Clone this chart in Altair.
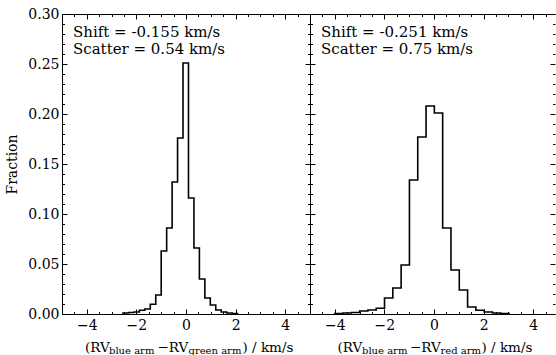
import altair as alt
import pandas as pd

FONT = "DejaVu Serif"

# ---------------- data ----------------
# left panel: RV(blue arm) - RV(green arm)
green_edges = [-2.54, -2.32, -2.10, -1.88, -1.66, -1.44, -1.22, -1.00, -0.78, -0.56, -0.34,
               -0.12, 0.10, 0.32, 0.54, 0.76, 0.98, 1.20, 1.42, 1.64, 1.86, 2.08]
green_frac = [0.001, 0.0015, 0.002, 0.0037, 0.005, 0.0097, 0.019, 0.063, 0.086, 0.132, 0.176,
              0.251, 0.116, 0.066, 0.035, 0.016, 0.009, 0.004, 0.002, 0.001, 0.0005]

# right panel: RV(blue arm) - RV(red arm)
red_edges = [-4.0, -3.67, -3.335, -3.0, -2.665, -2.33, -1.995, -1.66, -1.325, -0.99, -0.655,
             -0.32, 0.015, 0.35, 0.685, 1.02, 1.355, 1.69, 2.025, 2.36, 2.695, 3.03]
red_frac = [0.0005, 0.001, 0.0015, 0.003, 0.004, 0.0057, 0.016, 0.026, 0.049, 0.134, 0.177,
            0.208, 0.201, 0.086, 0.044, 0.024, 0.007, 0.0037, 0.002, 0.001, 0.0005]

green_note = ["Shift = -0.155 km/s", "Scatter = 0.54 km/s"]
red_note = ["Shift = -0.251 km/s", "Scatter = 0.75 km/s"]

green_title = ["(RV", "blue arm", "\u2212RV", "green arm", ") / km/s"]
red_title = ["(RV", "blue arm", "\u2212RV", "red arm", ") / km/s"]
y_title = "Fraction"

x_major = [-4, -2, 0, 2, 4]
x_minor = [-4.5, -4.0, -3.5, -3.0, -2.5, -2.0, -1.5, -1.0, -0.5, 0.0,
           0.5, 1.0, 1.5, 2.0, 2.5, 3.0, 3.5, 4.0, 4.5]
y_major = [0.0, 0.05, 0.10, 0.15, 0.20, 0.25, 0.30]
y_minor = [0.01, 0.02, 0.03, 0.04, 0.06, 0.07, 0.08, 0.09, 0.11, 0.12, 0.13, 0.14,
           0.16, 0.17, 0.18, 0.19, 0.21, 0.22, 0.23, 0.24, 0.26, 0.27, 0.28, 0.29]


def step_table(edges, frac):
    xs = [edges[0]] + list(edges[:-1]) + [edges[-1]]
    ys = [0.0] + list(frac) + [0.0]
    return pd.DataFrame({"x": xs, "y": ys, "i": list(range(len(xs)))})


def ax(**kw):
    base = dict(domain=False, grid=False, tickColor="black", tickWidth=1, title="",
                labelFont=FONT, labelFontSize=14, labelColor="black")
    base.update(kw)
    return alt.Axis(**base)


def frame_ax(orient):
    return alt.Axis(orient=orient, domain=True, domainColor="black", domainWidth=1,
                    ticks=False, labels=False, grid=False, title="")


one = alt.Chart(pd.DataFrame({"k": [0]}))


def panel(edges, frac, xmax, note, show_y, framed):
    df = step_table(edges, frac)
    xs = alt.Scale(domain=[-5, xmax], nice=False, zero=False)
    ys = alt.Scale(domain=[0, 0.30], nice=False, zero=False)
    base = alt.Chart(df)

    def lay(xaxis, yaxis, visible=False):
        mk = base.mark_line(interpolate="step-after", color="black", strokeWidth=1.6,
                            clip=True, opacity=1 if visible else 0)
        return mk.encode(x=alt.X("x:Q", scale=xs, axis=xaxis),
                         y=alt.Y("y:Q", scale=ys, axis=yaxis),
                         order=alt.Order("i:Q"))

    y_main = ax(orient="left", values=y_major, tickSize=5, offset=-5, format=".2f",
                labelPadding=3, labels=show_y, title=y_title if show_y else "",
                titleFont=FONT, titleFontSize=14, titleFontWeight="normal",
                titleColor="black", titlePadding=8)
    layers = [
        lay(ax(orient="bottom", values=x_major, tickSize=5, offset=-5, labelPadding=4,
               format="d"), y_main, visible=True),
        lay(ax(orient="top", values=x_major, tickSize=5, offset=-5, labels=False),
            ax(orient="right", values=y_major, tickSize=5, offset=-5, labels=False)),
        lay(ax(orient="bottom", values=x_minor, tickSize=2.5, offset=-2.5, labels=False),
            ax(orient="left", values=y_minor, tickSize=2.5, offset=-2.5, labels=False)),
        lay(ax(orient="top", values=x_minor, tickSize=2.5, offset=-2.5, labels=False),
            ax(orient="right", values=y_minor, tickSize=2.5, offset=-2.5, labels=False)),
    ]
    if framed:
        layers.append(lay(frame_ax("top"), frame_ax("left")))
        layers.append(lay(frame_ax("bottom"), frame_ax("left")))

    layers.append(one.mark_text(font=FONT, fontSize=15, align="left", baseline="alphabetic",
                                lineBreak="\n", lineHeight=17, color="black")
                  .encode(x=alt.value(11), y=alt.value(23), text=alt.value("\n".join(note))))
    return layers


def title_layers(pieces, xpos):
    out = []
    for k, (txt, xp) in enumerate(zip(pieces, xpos)):
        sub = k in (1, 3)
        out.append(one.mark_text(font=FONT, fontSize=10 if sub else 13.5, align="left",
                                 baseline="alphabetic", color="black")
                   .encode(x=alt.value(xp), y=alt.value(340 if sub else 337.5),
                           text=alt.value(txt)))
    return out


left_layers = panel(green_edges, green_frac, 5, green_note, True, False)
right_layers = panel(red_edges, red_frac, 4.88, red_note, False, True)

left = alt.layer(*left_layers, *title_layers(green_title, [23, 47, 95.5, 126.5, 180.5])) \
    .resolve_axis(x="independent", y="independent").properties(width=248, height=300)
right = alt.layer(*right_layers, *title_layers(red_title, [27.5, 52, 100, 130.5, 171.5])) \
    .resolve_axis(x="independent", y="independent") \
    .properties(width=245, height=300, view=alt.ViewBackground(stroke="transparent"))

chart = alt.hconcat(left, right, spacing=0, bounds="flush").properties(
    padding={"left": 5, "top": 6, "right": 0, "bottom": 0}
).configure_view(stroke="black", strokeWidth=1)

chart.save("out.html", embed_options={"renderer": "svg", "actions": False})
